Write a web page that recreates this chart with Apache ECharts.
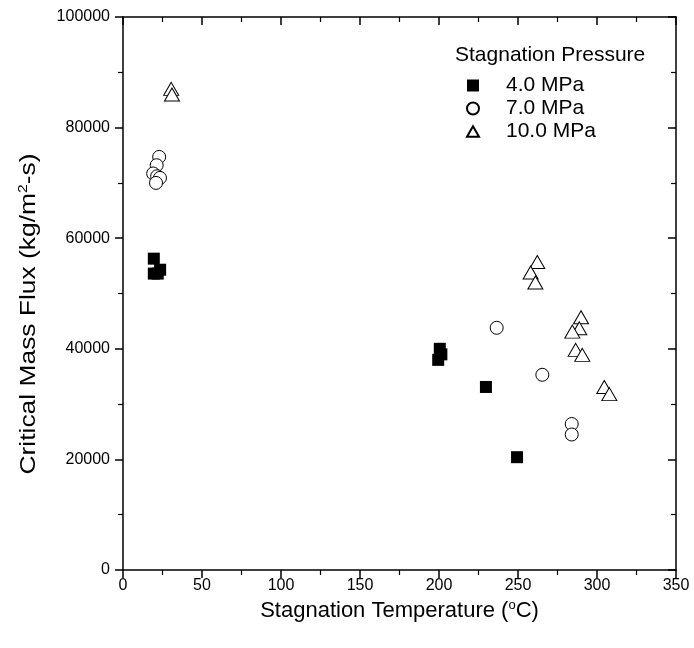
<!DOCTYPE html>
<html>
<head>
<meta charset="utf-8">
<script src="https://cdn.jsdelivr.net/npm/echarts@6/dist/echarts.min.js"></script>
<style>html,body{margin:0;padding:0;background:#fff;}#c{width:694px;height:648px;}</style>
</head>
<body>
<div id="c"></div>
<script>
const seriesNames = ['4.0 MPa', '7.0 MPa', '10.0 MPa'];
const p40 = [[19.5,56300],[19.5,53600],[22,53600],[23.5,54300],[200.5,40000],[201.5,39000],[199.5,38000],[229.7,33100],[249.4,20400]];
const p70 = [[22.9,74700],[21.3,73200],[19.1,71700],[21.6,71200],[23.4,70900],[20.9,70000],[236.5,43800],[265.4,35300],[284,26400],[284,24500]];
const p100 = [[30.5,87000],[31,86000],[262.2,55700],[258,53800],[261,52000],[289.9,45700],[288.8,43700],[284.4,43100],[286.5,39800],[290.7,38900],[304.6,33100],[307.8,31800]];
const xTicks = [0,50,100,150,200,250,300,350];
const yTicks = [0,20000,40000,60000,80000,100000];

const font = 'Liberation Sans, Arial, Helvetica, sans-serif';
const chart = echarts.init(document.getElementById('c'));
function mainAxis(isX){
  const ticks = isX ? xTicks : yTicks;
  return {
    type:'value', min:ticks[0], max:ticks[ticks.length-1], interval: ticks[1]-ticks[0],
    axisLine:{show:true, onZero:false, lineStyle:{color:'#000', width:1.5}},
    axisTick:{show:true, inside:false, length:8, lineStyle:{color:'#000', width:1.5}},
    minorTick:{show:true, splitNumber:2, length:5, lineStyle:{color:'#000', width:1.2}},
    splitLine:{show:false},
    axisLabel:{color:'#000', fontSize:16, fontFamily:font, margin: isX?8:13, formatter: v => String(v)},
  };
}
function mirrorAxis(isX){
  const ticks = isX ? xTicks : yTicks;
  return {
    type:'value', min:ticks[0], max:ticks[ticks.length-1], interval: ticks[1]-ticks[0],
    position: isX?'top':'right',
    axisLine:{show:true, onZero:false, lineStyle:{color:'#000', width:1.5}},
    axisTick:{show:true, inside:true, length:8, lineStyle:{color:'#000', width:1.5}},
    minorTick:{show:true, splitNumber:2, length:5, lineStyle:{color:'#000', width:1.2}},
    splitLine:{show:false},
    axisLabel:{show:false}
  };
}
const xa = mainAxis(true);
xa.name = '{t|Stagnation Temperature (}{s|o}{t|C)}';
xa.nameLocation = 'middle';
xa.nameGap = 22;
xa.nameTextStyle = {rich:{t:{fontSize:22, fontFamily:font, color:'#000'}, s:{fontSize:13, fontFamily:font, color:'#000', verticalAlign:'top', padding:[0,0,12,0]}}};
const ya = mainAxis(false);

const triPath = 'path://M0,-10L8.66,5L-8.66,5Z';
chart.setOption({
  animation:false,
  backgroundColor:'#fff',
  grid:{left:123, right:18, top:17, bottom:78},
  xAxis:[xa, mirrorAxis(true)],
  yAxis:[ya, mirrorAxis(false)],
  graphic:[
    {type:'text', left:455, top:45, style:{text:'Stagnation Pressure', font:'21px '+font, fill:'#000'}},
    {type:'group', x:29, y:314, rotation:Math.PI/2, children:[
      {type:'text', x:0, y:0, scaleX:1.2, style:{
        text:'{t|Critical Mass Flux (kg/m}{s|2}{t|-s)}', textAlign:'center', textVerticalAlign:'middle',
        rich:{t:{fontSize:22, fontFamily:font, fill:'#000', color:'#000'}, s:{fontSize:13, fontFamily:font, fill:'#000', color:'#000', verticalAlign:'top', padding:[0,0,12,0]}}
      }}
    ]}
  ],
  legend:{
    orient:'vertical', left:461, top:70, itemGap:2, itemWidth:12, itemHeight:12,
    textStyle:{fontSize:21, lineHeight:21, fontFamily:font, color:'#000', padding:[0,0,0,22]},
    data: seriesNames
  },
  series:[
    {name:seriesNames[0], type:'scatter', data:p40, symbol:'rect', symbolSize:12, itemStyle:{color:'#000', opacity:1}},
    {name:seriesNames[1], type:'scatter', data:p70, symbol:'circle', symbolSize:13, itemStyle:{color:'#fff', borderColor:'#000', borderWidth:1, opacity:1}},
    {name:seriesNames[2], type:'scatter', data:p100, symbol:triPath, symbolSize:[15,13], itemStyle:{color:'#fff', borderColor:'#000', borderWidth:1, opacity:1}},
    {type:'scatter', xAxisIndex:1, yAxisIndex:1, data:[], silent:true}
  ]
});
</script>
</body>
</html>
